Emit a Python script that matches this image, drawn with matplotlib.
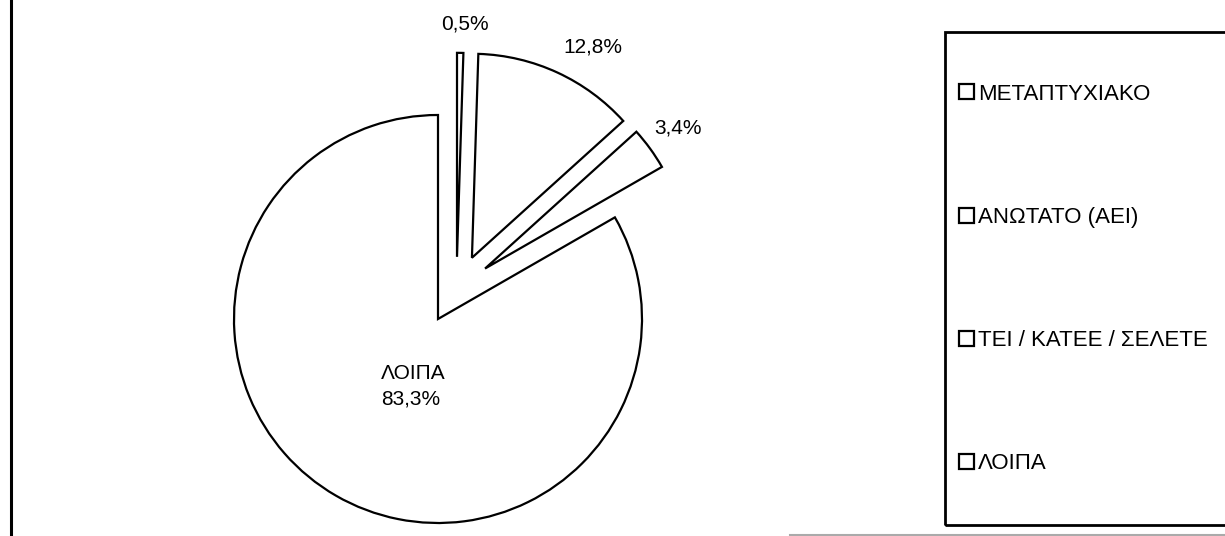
import numpy as np
import matplotlib
matplotlib.use("Agg")
import matplotlib.pyplot as plt
from matplotlib.patches import Rectangle
from matplotlib.lines import Line2D

plt.rcParams['font.family'] = ['Liberation Sans', 'DejaVu Sans']

# data (share of graduates by education level, %)
categories = ['ΜΕΤΑΠΤΥΧΙΑΚΟ', 'ΑΝΩΤΑΤΟ (ΑΕΙ)', 'ΤΕΙ / ΚΑΤΕΕ / ΣΕΛΕΤΕ', 'ΛΟΙΠΑ']
values = [0.5, 12.8, 3.4, 83.3]
show_name = [False, False, False, True]

# style for the exploded slices (distance in px, direction in degrees)
shift_px = [65, 70, 69, 0]
shift_dir = [73, 61, 47, 0]
label_r = [1.14, 1.19, 1.17, 0.35]
label_dang = [-1, -5, 0, 10]

W, H = 1225, 536
cx, cy, R = 438, H - 319, 204

fig = plt.figure(figsize=(W / 100, H / 100), dpi=100)
ax = fig.add_axes([0, 0, 1, 1])

wedges, _ = ax.pie(values, startangle=90, counterclock=False,
                   center=(cx, cy), radius=R,
                   wedgeprops=dict(facecolor='white', edgecolor='black',
                                   linewidth=1.6))

for i, w in enumerate(wedges):
    a = np.deg2rad(shift_dir[i])
    c = (cx + shift_px[i] * np.cos(a), cy + shift_px[i] * np.sin(a))
    w.set_center(c)
    mid = np.deg2rad((w.theta1 + w.theta2) / 2 + label_dang[i])
    tx = c[0] + label_r[i] * R * np.cos(mid)
    ty = c[1] + label_r[i] * R * np.sin(mid)
    txt = ('%.1f%%' % values[i]).replace('.', ',')
    if show_name[i]:
        txt = categories[i] + '\n' + txt
    ax.text(tx, ty, txt, ha='center', va='center', multialignment='left',
            fontsize=15, linespacing=1.45)

ax.set_xlim(0, W)
ax.set_ylim(0, H)
ax.axis('off')

# legend
leg = ax.legend(wedges, categories, loc='center left',
                bbox_to_anchor=(948 / W, (H - 279) / H),
                bbox_transform=fig.transFigure, frameon=False,
                borderpad=0, labelspacing=4.6, handlelength=0.65,
                handleheight=0.65, handletextpad=0.2, fontsize=16)

fig.add_artist(Rectangle((945 / W, (H - 525) / H), (1300 - 945) / W,
                         (525 - 32) / H, transform=fig.transFigure,
                         fill=False, edgecolor='black', linewidth=2))
fig.add_artist(Line2D([11 / W, 11 / W], [0, 1], transform=fig.transFigure,
                      color='black', linewidth=2.2))
fig.add_artist(Line2D([790 / W, 1], [1.5 / H, 1.5 / H],
                      transform=fig.transFigure, color='#aaaaaa',
                      linewidth=1.5))

fig.savefig('out.png', dpi=100, facecolor='white')
